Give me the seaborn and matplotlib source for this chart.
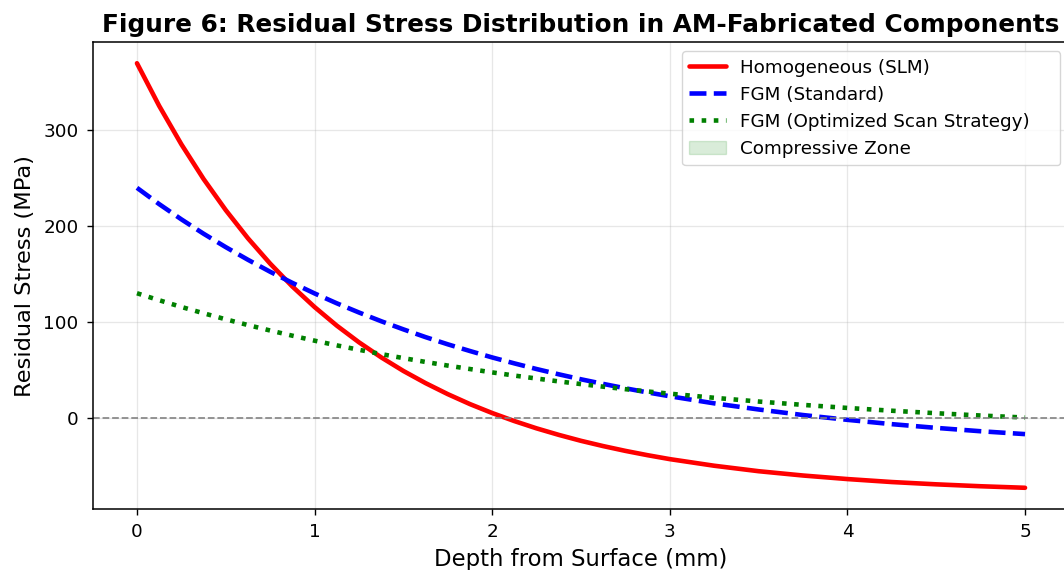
import matplotlib
matplotlib.use("Agg")
import matplotlib.pyplot as plt
import seaborn as sns
import numpy as np
import pandas as pd

depth = [0.0, 0.125, 0.25, 0.375, 0.5, 0.625, 0.75, 0.875, 1.0, 1.125, 1.25, 1.375,
         1.5, 1.625, 1.75, 1.875, 2.0, 2.125, 2.25, 2.375, 2.5, 2.625, 2.75, 2.875,
         3.0, 3.25, 3.5, 3.75, 4.0, 4.25, 4.5, 4.75, 5.0]
homogeneous = [370.0, 325.5, 285.4, 249.2, 216.7, 187.3, 160.9, 137.0, 115.6, 96.2,
               78.8, 63.1, 48.9, 36.2, 24.7, 14.3, 5.0, -3.4, -11.0, -17.8, -24.0,
               -29.5, -34.5, -39.0, -43.1, -50.0, -55.7, -60.2, -63.9, -67.0, -69.4,
               -71.4, -73.0]
fgm_standard = [240.0, 223.0, 207.1, 192.1, 178.1, 164.9, 152.4, 140.8, 129.8, 119.5,
                109.9, 100.8, 92.3, 84.2, 76.7, 69.7, 63.0, 56.8, 50.9, 45.4, 40.2,
                35.4, 30.8, 26.5, 22.5, 15.1, 8.7, 2.9, -2.1, -6.6, -10.5, -14.0, -17.0]
fgm_optimized = [130.0, 122.7, 115.7, 109.1, 102.8, 96.8, 91.1, 85.7, 80.5, 75.6,
                 71.0, 66.5, 62.3, 58.3, 54.5, 50.9, 47.4, 44.1, 41.0, 38.0, 35.2,
                 32.5, 29.9, 27.5, 25.2, 20.9, 17.0, 13.5, 10.3, 7.4, 4.8, 2.4, 0.3]

labels = ["Homogeneous (SLM)", "FGM (Standard)", "FGM (Optimized Scan Strategy)",
          "Compressive Zone"]
title = "Figure 6: Residual Stress Distribution in AM-Fabricated Components"
yticks = [0, 100, 200, 300]

df = pd.DataFrame({"depth": depth, "homo": homogeneous,
                   "std": fgm_standard, "opt": fgm_optimized})

sns.set_style("ticks", {"axes.edgecolor": "black", "text.color": "black",
                        "axes.labelcolor": "black", "xtick.color": "black",
                        "ytick.color": "black"})
plt.rcParams["font.family"] = ["DejaVu Sans"]

fig = plt.figure(figsize=(10.64, 5.70), dpi=100)
ax = fig.add_axes([0.0870, 0.1070, 0.9181, 0.8193])

lw = 3.3
sns.lineplot(data=df, x="depth", y="homo", color="red", linewidth=lw,
             label=labels[0], ax=ax)
sns.lineplot(data=df, x="depth", y="std", color="blue", linewidth=lw,
             linestyle="--", label=labels[1], ax=ax)
sns.lineplot(data=df, x="depth", y="opt", color="green", linewidth=lw,
             linestyle=":", label=labels[2] + "    ", ax=ax)

opt = np.array(fgm_optimized)
ax.fill_between(depth, opt, 0, where=opt < 0, color="green", alpha=0.15,
                label=labels[3])
ax.axhline(0, color="gray", linestyle="--", linewidth=1.3, alpha=0.9)

ax.grid(True, alpha=0.3, color="#b0b0b0", linewidth=0.9)
ax.set_xlabel("Depth from Surface (mm)", fontsize=16.4, labelpad=5)
ax.set_ylabel("Residual Stress (MPa)", fontsize=16.2, labelpad=6)
ax.set_title(title, fontsize=17.8, fontweight="bold", pad=7)
ax.tick_params(labelsize=13.2, length=4.5, width=1.0, pad=5.5)
ax.set_yticks(yticks)
for s in ax.spines.values():
    s.set_linewidth(1.1)
ax.legend(loc="upper right", fontsize=13.2, handletextpad=0.75)

fig.savefig("out.png", dpi=100)
